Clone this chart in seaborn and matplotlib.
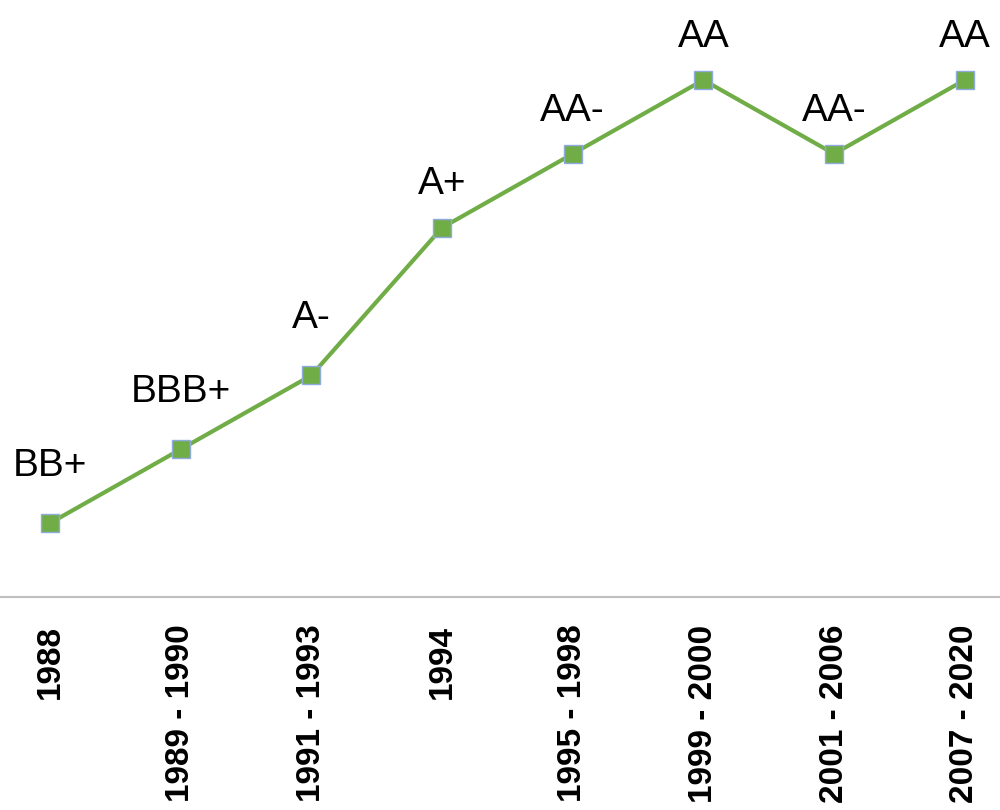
import pandas as pd
import seaborn as sns
import matplotlib.pyplot as plt

# Rating history (ordinal position on the chart, label shown above the point)
periods = ['1988', '1989 - 1990', '1991 - 1993', '1994',
           '1995 - 1998', '1999 - 2000', '2001 - 2006', '2007 - 2020']
ratings = ['BB+', 'BBB+', 'A-', 'A+', 'AA-', 'AA', 'AA-', 'AA']
levels = [1, 2, 3, 5, 6, 7, 6, 7]

df = pd.DataFrame({'period': periods, 'level': levels, 'rating': ratings})

sns.set_style('white')
plt.rcParams['text.color'] = 'black'
plt.rcParams['xtick.color'] = 'black'

fig = plt.figure(figsize=(10, 8.1), dpi=100)
ax = fig.add_axes([0, 0.263, 1, 0.737])

sns.lineplot(data=df, x='period', y='level', sort=False, ax=ax,
             color='#70AD47', linewidth=3, marker='s', markersize=13,
             markerfacecolor='#70AD47', markeredgecolor='#8FAADC',
             markeredgewidth=1)

# data labels above each point (first three sit a bit higher in the original)
for i, row in df.iterrows():
    off = 34 if i < 3 else 24
    ax.annotate(row['rating'], (i, row['level']), xytext=(0, off),
                textcoords='offset points', ha='center', va='baseline',
                fontsize=28, family='Liberation Sans', clip_on=False)

ax.set_xlim(-0.383, 7.27)
ax.set_ylim(0, 8.083)
ax.set_xlabel('')
ax.set_ylabel('')
ax.set_yticks([])
ax.set_xticks(range(len(periods)))
ax.set_xticklabels(periods, rotation=90, ha='center', va='top',
                   fontsize=24, fontweight='bold', family='Liberation Sans')
ax.tick_params(axis='x', length=0, pad=20)

for side in ['left', 'right', 'top']:
    ax.spines[side].set_visible(False)
ax.spines['bottom'].set_color('#BFBFBF')
ax.spines['bottom'].set_linewidth(1.5)

fig.savefig('out.png', dpi=100)
